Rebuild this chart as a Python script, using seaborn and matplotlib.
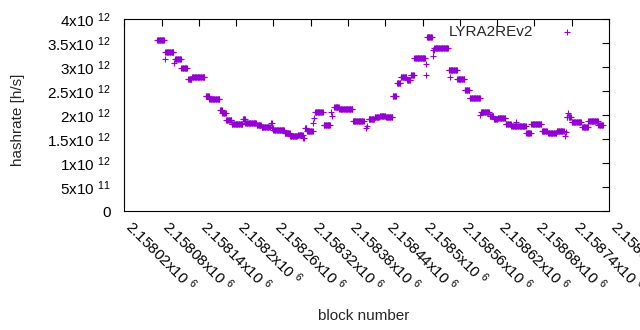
import numpy as np
import pandas as pd
import matplotlib
matplotlib.use("Agg")
import matplotlib.pyplot as plt
import seaborn as sns

# ---- data (constant-value runs of blocks) ----
seg_start = [2158073, 2158085, 2158086, 2158100, 2158102, 2158112, 2158123, 2158129,
             2158151, 2158157, 2158174, 2158178, 2158184, 2158193, 2158211, 2158215,
             2158233, 2158241, 2158256, 2158258, 2158260, 2158278, 2158287, 2158299,
             2158308, 2158311, 2158314, 2158324, 2158326, 2158327, 2158341, 2158352,
             2158354, 2158358, 2158366, 2158388, 2158409, 2158410, 2158413, 2158423,
             2158431, 2158441, 2158452, 2158459, 2158465, 2158475, 2158481, 2158487,
             2158505, 2158506, 2158507, 2158516, 2158517, 2158519, 2158542, 2158544,
             2158556, 2158568, 2158576, 2158593, 2158594, 2158608, 2158615, 2158621,
             2158634, 2158643, 2158651, 2158667, 2158675, 2158692, 2158702, 2158716,
             2158729, 2158730, 2158732, 2158734, 2158735, 2158740, 2158757, 2158767,
             2158783]
seg_end = [2158084, 2158085, 2158099, 2158100, 2158111, 2158121, 2158128, 2158149,
           2158156, 2158173, 2158177, 2158183, 2158192, 2158210, 2158214, 2158232,
           2158240, 2158254, 2158257, 2158259, 2158277, 2158286, 2158298, 2158307,
           2158309, 2158313, 2158323, 2158324, 2158326, 2158339, 2158351, 2158352,
           2158354, 2158365, 2158387, 2158405, 2158409, 2158410, 2158422, 2158430,
           2158440, 2158451, 2158457, 2158464, 2158474, 2158480, 2158486, 2158504,
           2158505, 2158506, 2158515, 2158516, 2158518, 2158541, 2158555, 2158544,
           2158567, 2158575, 2158592, 2158593, 2158607, 2158614, 2158620, 2158633,
           2158642, 2158666, 2158651, 2158674, 2158691, 2158700, 2158715, 2158727,
           2158729, 2158730, 2158733, 2158734, 2158739, 2158755, 2158766, 2158782,
           2158790]
seg_hashrate_e12 = [3.57, 3.17, 3.31, 3.10, 3.17, 2.98, 2.76, 2.79,
                    2.40, 2.35, 2.12, 2.05, 1.90, 1.82, 1.92, 1.85,
                    1.80, 1.76, 1.83, 1.73, 1.69, 1.625, 1.57, 1.59,
                    1.52, 1.73, 1.68, 1.83, 1.94, 2.06, 1.80, 2.06,
                    1.985, 2.17, 2.14, 1.89, 1.73, 1.78, 1.93, 1.955,
                    1.99, 1.975, 2.40, 2.67, 2.80, 2.745, 2.85, 3.19,
                    3.075, 2.85, 3.625, 3.24, 3.36, 3.40, 2.94, 2.79,
                    2.76, 2.52, 2.355, 2.01, 2.06, 1.985, 1.92, 1.94,
                    1.81, 1.78, 1.87, 1.625, 1.81, 1.68, 1.625, 1.68,
                    1.57, 1.66, 1.965, 2.04, 1.965, 1.87, 1.75, 1.89,
                    1.80]

x_ticks = [2158020, 2158080, 2158140, 2158200, 2158260, 2158320, 2158380,
           2158440, 2158500, 2158560, 2158620, 2158680, 2158740, 2158800]
x_ticklabels = ["2.15802", "2.15808", "2.15814", "2.1582", "2.15826", "2.15832",
                "2.15838", "2.15844", "2.1585", "2.15856", "2.15862", "2.15868",
                "2.15874", "2.1588"]
y_ticks = [0, 0.5e12, 1e12, 1.5e12, 2e12, 2.5e12, 3e12, 3.5e12, 4e12]
y_ticklabels = ["0", "5x10 $^{11}$", "1x10 $^{12}$", "1.5x10 $^{12}$", "2x10 $^{12}$",
                "2.5x10 $^{12}$", "3x10 $^{12}$", "3.5x10 $^{12}$", "4x10 $^{12}$"]
series_name = "LYRA2REv2"

# ---- build table ----
blocks, rates = [], []
for s, e, v in zip(seg_start, seg_end, seg_hashrate_e12):
    b = np.arange(s, e + 1)
    blocks.append(b)
    rates.append(np.full(len(b), v * 1e12))
df = pd.DataFrame({"block": np.concatenate(blocks), "hashrate": np.concatenate(rates)})

sns.set_style("white")
plt.rcParams["font.family"] = ["Liberation Sans", "DejaVu Sans"]
plt.rcParams["mathtext.fontset"] = "custom"
plt.rcParams["mathtext.rm"] = "Liberation Sans"
plt.rcParams["mathtext.it"] = "Liberation Sans:italic"
plt.rcParams["mathtext.bf"] = "Liberation Sans:bold"

W, H = 640, 330
fig = plt.figure(figsize=(W / 100, H / 100), dpi=100)
L, R, T, B = 124.3, 609.0, 19.3, 211.3
ax = fig.add_axes([L / W, 1 - B / H, (R - L) / W, (B - T) / H])

purple = "#9400D3"
sns.scatterplot(data=df, x="block", y="hashrate", marker="+", s=24, color=purple,
                linewidth=0.8, ax=ax, label=series_name, legend=False)

ax.set_xlim(2158020, 2158800)
ax.set_ylim(0, 4e12)
ax.set_xlabel("")
ax.set_ylabel("")

for sp in ax.spines.values():
    sp.set_visible(True)
    sp.set_color("black")
    sp.set_linewidth(0.8)

ax.set_yticks(y_ticks)
ax.set_yticklabels(y_ticklabels)
ax.set_xticks(x_ticks)
ax.set_xticklabels([t + "x10 $^{6}$" for t in x_ticklabels], rotation=-45,
                   ha="left", va="baseline", rotation_mode="anchor")
ax.tick_params(axis="both", direction="in", length=5, width=0.8, top=True, right=True,
               labelsize=11, colors="black")
ax.tick_params(axis="y", pad=10)
ax.tick_params(axis="x", pad=12)

fig.text(18 / W, 1 - 120 / H, "hashrate [h/s]", rotation=90, ha="center", va="center",
         fontsize=11)
fig.text(364 / W, 1 - 316 / H, "block number", ha="center", va="center", fontsize=11)

ax.legend(loc="center right", bbox_to_anchor=(582 / W, 1 - 32 / H),
          bbox_transform=fig.transFigure, frameon=False, markerfirst=False,
          handlelength=2, handletextpad=1.2, borderpad=0, borderaxespad=0,
          fontsize=11, scatterpoints=1)

fig.savefig("out.png", dpi=100)
